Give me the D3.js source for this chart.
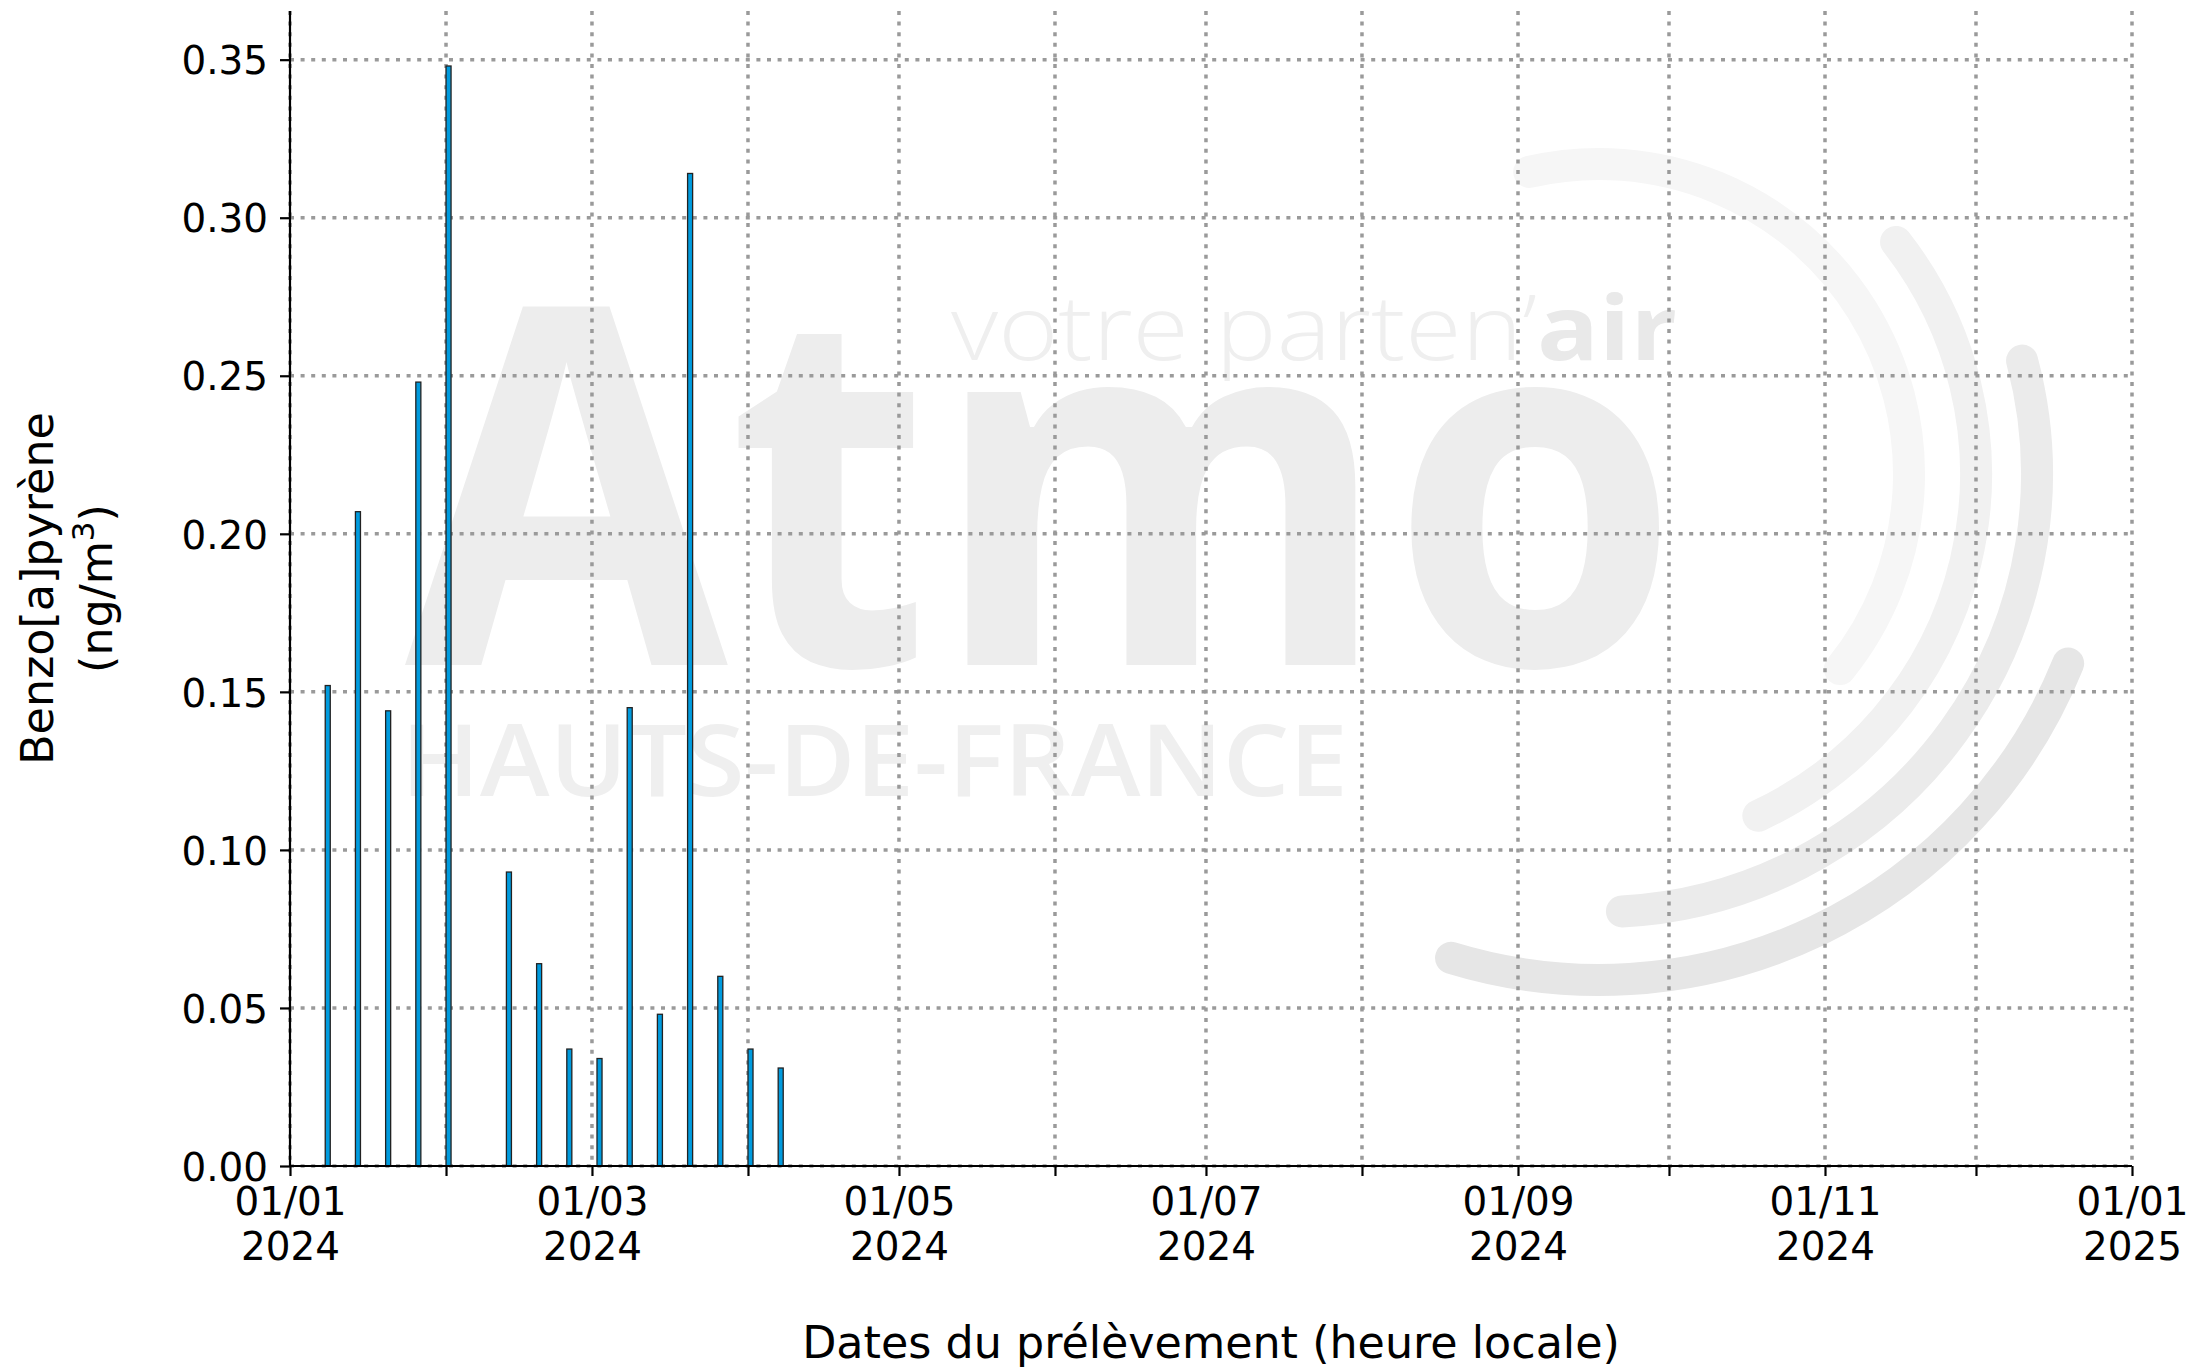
<!doctype HTML>
<html>
  <head>
    <title>Benzo[a]pyrène 2024</title>
    <style>
      body { margin: 0; background: #fff; }
      svg { display: block; }
      text { font-family: "DejaVu Sans", sans-serif; fill: #000; }
      .grid line { stroke: #9a9a9a; stroke-width: 3.5px; stroke-dasharray: 4 6.6; }
      .bar { fill: #009bde; stroke: #222; stroke-width: 1.3px; }
      .wm { font-family: "Open Sans", sans-serif; }
    </style>
    <script src="https://cdn.jsdelivr.net/npm/d3@7"></script>
  </head>
  <body>

  <svg width="2202" height="1368"></svg>

  <script>

  // sampling dates (24 h samples) and measured values in ng/m3
  var dates = [
    '2024-01-08', '2024-01-14', '2024-01-20', '2024-01-26', '2024-02-01',
    '2024-02-13', '2024-02-19', '2024-02-25', '2024-03-02', '2024-03-08',
    '2024-03-14', '2024-03-20', '2024-03-26', '2024-04-01', '2024-04-07'
  ];
  var values = [
    0.152, 0.207, 0.144, 0.248, 0.348,
    0.093, 0.064, 0.037, 0.034, 0.145,
    0.048, 0.314, 0.060, 0.037, 0.031
  ];
  var yTicks = [0, 0.05, 0.10, 0.15, 0.20, 0.25, 0.30, 0.35];
  var xStart = '2024-01-01';
  var xEnd = '2025-01-01';

  var $svg = d3.select('svg');
  var plotLeft = 290, plotRight = 2132, plotTop = 11, plotBottom = 1166;

  var parse = d3.utcParse('%Y-%m-%d');
  var x = d3.scaleUtc()
    .domain([parse(xStart), parse(xEnd)])
    .range([plotLeft, plotRight]);
  var y = d3.scaleLinear()
    .domain([0, d3.max(values) * 1.05])
    .range([plotBottom, plotTop]);

  // watermark
  var $wm = $svg.append('g').attr('class', 'wm');
  var cx = 1599, cy = 474;
  var arcs = [
    { r: 310, a0: -13, a1: 129, color: '#f6f6f6' },
    { r: 377, a0: 52, a1: 155, color: '#f1f1f1' },
    { r: 438, a0: 75, a1: 177, color: '#ebebeb' },
    { r: 506, a0: 112, a1: 197, color: '#e6e6e6' }
  ];
  arcs.forEach(function(a){
    var p = d3.path();
    var s = (a.a0 - 90) * Math.PI / 180, e = (a.a1 - 90) * Math.PI / 180;
    p.arc(cx, cy, a.r, s, e, false);
    $wm.append('path')
      .attr('d', p.toString())
      .attr('fill', 'none')
      .attr('stroke', a.color)
      .attr('stroke-width', 32)
      .attr('stroke-linecap', 'round');
  });
  $wm.append('text')
    .attr('x', 405).attr('y', 665)
    .attr('font-size', 500).attr('font-weight', 700)
    .attr('textLength', 1275).attr('lengthAdjust', 'spacingAndGlyphs')
    .style('font-family', '"Open Sans", sans-serif')
    .style('fill', '#ededed')
    .text('Atmo');
  var $tag = $wm.append('text')
    .attr('x', 951).attr('y', 360)
    .attr('font-size', 90)
    .attr('textLength', 726).attr('lengthAdjust', 'spacingAndGlyphs')
    .style('font-family', '"Open Sans", sans-serif');
  $tag.append('tspan').attr('font-weight', 300).style('fill', '#efefef').text('votre parten\u2019');
  $tag.append('tspan').attr('font-weight', 700).style('fill', '#e9e9e9').text('air');
  $wm.append('text')
    .attr('x', 401).attr('y', 796)
    .attr('font-size', 100).attr('font-weight', 600)
    .attr('textLength', 947).attr('lengthAdjust', 'spacingAndGlyphs')
    .style('font-family', '"Open Sans", sans-serif')
    .style('fill', '#efefef')
    .text('HAUTS-DE-FRANCE');

  // grid
  var months = d3.utcMonth.range(parse(xStart), d3.utcDay.offset(parse(xEnd), 1));
  var $grid = $svg.append('g').attr('class', 'grid');
  $grid.selectAll('line.h').data(yTicks).enter().append('line')
    .attr('class', 'h')
    .attr('x1', plotLeft).attr('x2', plotRight)
    .attr('y1', function(d){ return y(d); })
    .attr('y2', function(d){ return y(d); });
  $grid.selectAll('line.v').data(months).enter().append('line')
    .attr('class', 'v')
    .attr('y1', plotTop).attr('y2', plotBottom)
    .attr('x1', function(d){ return x(d); })
    .attr('x2', function(d){ return x(d); });

  // bars, each one covers its 24 h sample
  $svg.append('g').selectAll('rect').data(dates).enter().append('rect')
    .attr('class', 'bar')
    .attr('x', function(d){ return x(parse(d)); })
    .attr('width', function(d){ return x(d3.utcDay.offset(parse(d), 1)) - x(parse(d)); })
    .attr('y', function(d, i){ return y(values[i]); })
    .attr('height', function(d, i){ return plotBottom - y(values[i]); });

  // axes
  var fmtDay = d3.utcFormat('%d/%m'), fmtYear = d3.utcFormat('%Y');
  var xAxis = d3.axisBottom(x)
    .tickValues(months)
    .tickSize(10)
    .tickPadding(10)
    .tickFormat(function(d){ return d.getUTCMonth() % 2 === 0 ? fmtDay(d) : ''; });
  var $xa = $svg.append('g')
    .attr('transform', 'translate(0,' + plotBottom + ')')
    .call(xAxis);
  $xa.selectAll('.tick text')
    .attr('font-size', 38.9)
    .attr('dy', null)
    .attr('y', 49)
    .each(function(d){
      if (d.getUTCMonth() % 2 !== 0) return;
      d3.select(this).append('tspan')
        .attr('x', 0).attr('y', 94)
        .text(fmtYear(d));
    });

  var yAxis = d3.axisLeft(y)
    .tickValues(yTicks)
    .tickSize(10)
    .tickPadding(12)
    .tickFormat(d3.format('.2f'));
  var $ya = $svg.append('g')
    .attr('transform', 'translate(' + plotLeft + ',0)')
    .call(yAxis);
  $ya.selectAll('.tick text')
    .attr('font-size', 38.9)
    .attr('dy', '0.3645em');

  [$xa, $ya].forEach(function($a){
    $a.attr('font-family', null).attr('font-size', null);
    $a.select('.domain').remove();
    $a.selectAll('.tick line').attr('stroke-width', 2.2);
  });
  $svg.append('line')
    .attr('x1', plotLeft).attr('x2', plotLeft).attr('y1', plotTop).attr('y2', plotBottom + 1)
    .attr('stroke', '#000').attr('stroke-width', 2.2);
  $svg.append('line')
    .attr('x1', plotLeft - 1).attr('x2', plotRight).attr('y1', plotBottom).attr('y2', plotBottom)
    .attr('stroke', '#000').attr('stroke-width', 2.2);

  // axis titles
  $svg.append('text')
    .attr('x', (plotLeft + plotRight) / 2).attr('y', 1358)
    .attr('text-anchor', 'middle')
    .attr('font-size', 44.4)
    .text('Dates du prélèvement (heure locale)');

  var $yl = $svg.append('text')
    .attr('transform', 'translate(0,' + (plotTop + plotBottom) / 2 + ') rotate(-90)')
    .attr('text-anchor', 'middle')
    .attr('font-size', 44.4);
  $yl.append('tspan').attr('x', 0).attr('y', 53).text('Benzo[a]pyrène');
  $yl.append('tspan').attr('x', 0).attr('y', 112).text('(ng/m');
  $yl.append('tspan').attr('baseline-shift', 'super').attr('font-size', 31).text('3');
  $yl.append('tspan').text(')');

  </script>

  </body>
</html>
